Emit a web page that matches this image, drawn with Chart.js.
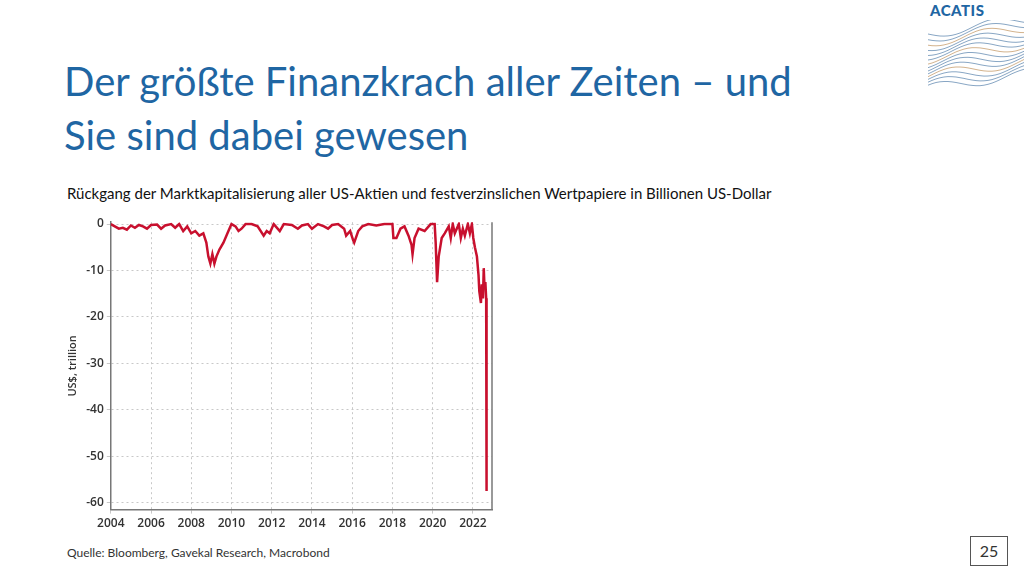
<!DOCTYPE html>
<html><head><meta charset="utf-8">
<script src="https://cdn.jsdelivr.net/npm/chart.js@4.4.0/dist/chart.umd.min.js"></script>
<style>
body{margin:0;width:1024px;height:576px;background:#fff;position:relative;font-family:Lato,"Open Sans",sans-serif;overflow:hidden}
#title{position:absolute;left:64px;top:54px;font-size:40px;line-height:54px;color:#1f66a3;font-weight:400}
#sub{position:absolute;left:67px;top:184px;font-size:15px;color:#111}
#src{position:absolute;left:67px;top:545px;font-size:12px;color:#333}
#pg{position:absolute;left:970px;top:536px;width:36px;height:28px;border:1px solid #555;text-align:center;line-height:28px;font-size:16px;color:#333}
#logo{position:absolute;left:930px;top:1px;font-size:15px;font-weight:900;color:#1f66a3;letter-spacing:0.5px}
#wrap{position:absolute;left:62px;top:212px;width:438px;height:322px}
</style></head><body>
<div id="title">Der größte Finanzkrach aller Zeiten – und<br>Sie sind dabei gewesen</div>
<div id="sub">Rückgang der Marktkapitalisierung aller US-Aktien und festverzinslichen Wertpapiere in Billionen US-Dollar</div>
<div id="logo">ACATIS</div>
<svg style="position:absolute;left:928px;top:20px" width="96" height="78">
<g fill="none" stroke="#6a8fb5" stroke-width="0.8" id="w"></g>
</svg>
<div id="wrap"><canvas id="c"></canvas></div>
<div id="src">Quelle: Bloomberg, Gavekal Research, Macrobond</div>
<div id="pg">25</div>
<script>
(function(){const g=document.getElementById('w');for(let i=0;i<14;i++){let d='';for(let x=0;x<=96;x+=4){const y=14+i*4.2+5*Math.sin(x/14+i*0.3)-x*0.15;d+=(x?'L':'M')+x+','+y.toFixed(1);}const p=document.createElementNS('http://www.w3.org/2000/svg','path');p.setAttribute('d',d);if(i%4==2)p.setAttribute('stroke','#c8a070');g.appendChild(p);}})();

const years=[2004.0,2004.2,2004.4,2004.6,2004.8,2005.0,2005.2,2005.4,2005.6,2005.8,2006.0,2006.3,2006.5,2006.7,2007.0,2007.2,2007.4,2007.6,2007.8,2008.0,2008.2,2008.4,2008.6,2008.75,2008.85,2008.95,2009.05,2009.15,2009.25,2009.4,2009.6,2009.8,2010.0,2010.2,2010.35,2010.5,2010.7,2011.0,2011.3,2011.6,2011.75,2011.9,2012.1,2012.4,2012.6,2013.0,2013.3,2013.5,2013.8,2014.0,2014.3,2014.6,2014.8,2015.0,2015.3,2015.6,2015.7,2015.9,2016.05,2016.1,2016.3,2016.5,2016.8,2017.2,2017.6,2018.0,2018.05,2018.2,2018.4,2018.6,2018.8,2018.95,2019.0,2019.1,2019.3,2019.6,2019.9,2020.1,2020.15,2020.22,2020.3,2020.45,2020.6,2020.8,2020.9,2021.0,2021.1,2021.3,2021.4,2021.5,2021.6,2021.75,2021.85,2021.95,2022.02,2022.1,2022.2,2022.28,2022.32,2022.4,2022.44,2022.5,2022.54,2022.58,2022.62,2022.66,2022.68];
const values=[0,-0.5,-1,-0.8,-1.2,-0.3,-0.8,-0.2,-0.5,-1,-0.2,-0.1,-1,-0.3,0,-0.8,0,-1.5,-0.5,-2,-1.5,-2.5,-2,-4,-7,-8.5,-6.5,-8.5,-7,-5.5,-4,-2,0,-0.5,-1.5,-1,0,0,-0.5,-2.5,-1.5,-2,0,-1.5,0,-0.2,-1,-0.3,0,-1,0,-0.5,-1,-0.2,0,-1,-2.5,-1.5,-3.5,-4,-1.5,-0.5,0,-0.3,0,0,-3,-3,-1,-0.5,-2.5,-4.5,-6.5,-3,-1,-1.5,0,0,-4,-12.5,-7,-3,-2,-0.5,-3,0,-2,0,-3,-1,-2.5,0,-2,0,-3,-5,-7,-11,-14.5,-17,-13,-16,-9.5,-14,-12.5,-16,-57.5];
const yTicks=[0,-10,-20,-30,-40,-50,-60];
const xTicks=[2004,2006,2008,2010,2012,2014,2016,2018,2020,2022];

const border={id:'b',afterDraw(c){const a=c.chartArea,x=c.ctx;x.save();x.strokeStyle='#777';x.lineWidth=1.5;x.beginPath();x.moveTo(a.right,a.top);x.lineTo(a.right,a.bottom);x.stroke();x.restore();}};
const tf={size:12,family:'Open Sans',weight:'600'};
new Chart(document.getElementById('c'),{type:'line',
data:{datasets:[{data:years.map((y,i)=>({x:y,y:values[i]})),borderColor:'#c8102e',borderWidth:2.5,pointRadius:0,tension:0}]},
options:{responsive:true,maintainAspectRatio:false,animation:false,plugins:{legend:{display:false},tooltip:{enabled:false}},
layout:{padding:{top:4,right:8}},
scales:{
x:{type:'linear',min:2004,max:2022.95,afterBuildTicks(s){s.ticks=xTicks.map(v=>({value:v}));},
 grid:{color:'#c8c8c8',tickLength:4},border:{color:'#777',width:1.5,dash:[2,3]},
 ticks:{color:'#333',font:tf,callback:v=>String(v),maxRotation:0}},
y:{min:-61.5,max:0.4,afterBuildTicks(s){s.ticks=yTicks.map(v=>({value:v}));},
 grid:{color:'#c8c8c8',tickLength:4},border:{color:'#777',width:1.5,dash:[2,3]},
 ticks:{color:'#333',font:tf},
 title:{display:true,text:'US$, trillion',color:'#333',font:{size:11,family:'Open Sans',weight:'600'}}}}},
plugins:[border]});
</script></body></html>
